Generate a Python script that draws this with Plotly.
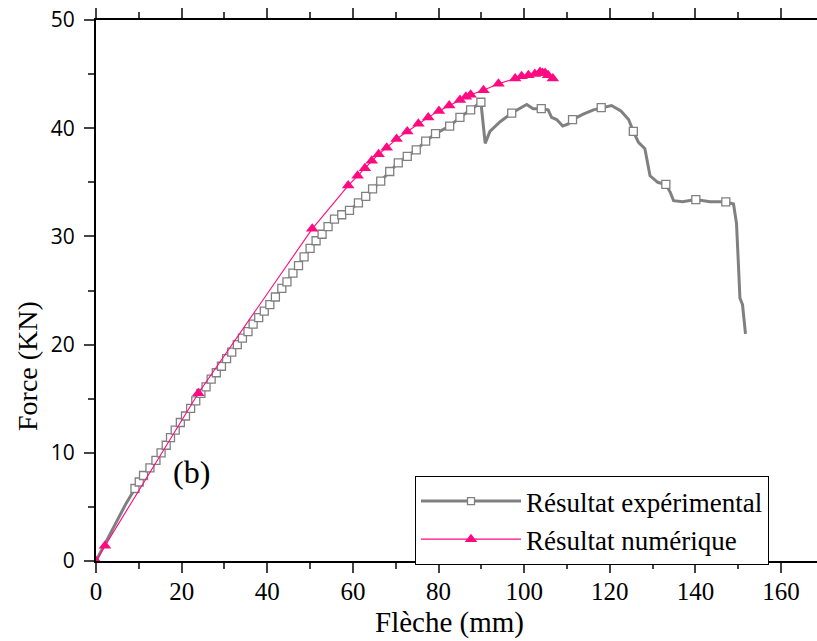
import plotly.graph_objects as go

# Experimental curve (Flèche mm, Force KN)
exp_x = [0, 2.0, 4.5, 7.0, 9.1, 10.1, 11.1, 12.6, 14.0, 15.2, 16.4, 17.4, 18.5, 19.7, 20.9, 22.1,
         23.3, 24.5, 25.7, 26.9, 28.1, 29.3, 30.5, 31.7, 33.0, 34.2, 35.5, 36.7, 38.0, 39.3, 40.6,
         41.9, 43.4, 44.6, 46.0, 47.3, 48.6, 50.0, 51.4, 52.8, 54.2, 55.7, 57.4, 59.2, 61.3, 63.0,
         64.6, 66.5, 68.6, 70.6, 72.7, 74.8, 77.0, 79.3, 82.6, 85.0, 87.5, 89.9,
         90.9, 91.5, 92.0, 94.4, 97.1, 100.6, 102.1, 104.0, 105.6, 106.4, 107.6, 109.0, 110.3,
         111.3, 113.8, 116.2, 118.0, 120.4, 122.6, 124.4, 125.5, 126.7, 128.2, 128.8, 129.4,
         131.2, 133.1, 134.1, 134.9, 137.0, 140.1, 143.4, 147.1, 148.9, 149.6, 150.0, 150.4,
         151.0, 151.7]
exp_y = [0, 1.5, 3.4, 5.3, 6.7, 7.3, 7.9, 8.6, 9.3, 10.0, 10.7, 11.4, 12.1, 12.8, 13.4, 14.1,
         14.8, 15.5, 16.1, 16.8, 17.4, 18.0, 18.7, 19.3, 20.0, 20.6, 21.2, 21.9, 22.5, 23.1, 23.7,
         24.4, 25.2, 25.8, 26.6, 27.3, 28.1, 28.9, 29.6, 30.2, 30.9, 31.6, 32.0, 32.4, 33.1, 33.7,
         34.4, 35.1, 36.0, 36.8, 37.4, 38.0, 38.8, 39.5, 40.2, 41.0, 41.7, 42.4,
         38.6, 39.2, 39.7, 40.6, 41.4, 42.2, 41.8, 41.8, 41.7, 41.0, 40.8, 40.2, 40.4,
         40.8, 41.3, 41.7, 41.9, 42.1, 41.6, 40.8, 39.7, 38.7, 38.1, 36.8, 35.6,
         35.0, 34.8, 34.1, 33.3, 33.2, 33.4, 33.2, 33.2, 33.0, 31.2, 27.8, 24.3,
         23.7, 21.0]

# Points of the experimental curve that carry a square marker
exp_mark_x = [9.1, 10.1, 11.1, 12.6, 14.0, 15.2, 16.4, 17.4, 18.5, 19.7, 20.9, 22.1,
              23.3, 24.5, 25.7, 26.9, 28.1, 29.3, 30.5, 31.7, 33.0, 34.2, 35.5, 36.7, 38.0, 39.3,
              40.6, 41.9, 43.4, 44.6, 46.0, 47.3, 48.6, 50.0, 51.4, 52.8, 54.2, 55.7, 57.4, 59.2,
              61.3, 63.0, 64.6, 66.5, 68.6, 70.6, 72.7, 74.8, 77.0, 79.3, 82.6, 85.0, 87.5, 89.9,
              97.1, 104.0, 111.3, 118.0, 125.5, 133.1, 140.1, 147.1]
exp_mark_y = [6.7, 7.3, 7.9, 8.6, 9.3, 10.0, 10.7, 11.4, 12.1, 12.8, 13.4, 14.1,
              14.8, 15.5, 16.1, 16.8, 17.4, 18.0, 18.7, 19.3, 20.0, 20.6, 21.2, 21.9, 22.5, 23.1,
              23.7, 24.4, 25.2, 25.8, 26.6, 27.3, 28.1, 28.9, 29.6, 30.2, 30.9, 31.6, 32.0, 32.4,
              33.1, 33.7, 34.4, 35.1, 36.0, 36.8, 37.4, 38.0, 38.8, 39.5, 40.2, 41.0, 41.7, 42.4,
              41.4, 41.8, 40.8, 41.9, 39.7, 34.8, 33.4, 33.2]

# Numerical curve
num_x = [0, 2.1, 23.9, 50.5, 58.9, 61.1, 62.8, 64.4, 66.0, 67.9, 70.2, 72.7, 75.3, 77.6, 80.1,
         82.5, 85.0, 86.4, 87.5, 90.5, 94.0, 97.9, 99.4, 101.0, 102.5, 103.7, 104.3, 104.9,
         105.6, 106.7]
num_y = [0, 1.4, 15.5, 30.7, 34.7, 35.6, 36.3, 37.0, 37.6, 38.2, 39.0, 39.7, 40.4, 41.0, 41.6,
         42.1, 42.6, 42.9, 43.1, 43.5, 44.1, 44.6, 44.8, 44.9, 45.0, 45.2, 45.1, 45.1,
         44.9, 44.6]

x_ticks = [0, 20, 40, 60, 80, 100, 120, 140, 160]
y_ticks = [0, 10, 20, 30, 40, 50]

GRAY = "#808080"
PINK = "#FF0A80"
SERIF = "Liberation Serif"

fig = go.Figure()
fig.add_trace(go.Scatter(x=exp_x, y=exp_y, mode="lines",
                         line=dict(color=GRAY, width=3), showlegend=False, hoverinfo="skip"))
fig.add_trace(go.Scatter(x=exp_mark_x, y=exp_mark_y, mode="markers",
                         marker=dict(symbol="square", size=8, color="white",
                                     line=dict(color=GRAY, width=1.3)),
                         showlegend=False))
fig.add_trace(go.Scatter(x=[None], y=[None], mode="lines+markers", name="Résultat expérimental",
                         line=dict(color=GRAY, width=3),
                         marker=dict(symbol="square", size=7, color="white",
                                     line=dict(color=GRAY, width=1.3))))
fig.add_trace(go.Scatter(x=num_x, y=num_y, mode="lines+markers", name="Résultat numérique",
                         line=dict(color=PINK, width=1.1),
                         marker=dict(symbol="triangle-up", size=11, color=PINK)))

fig.add_annotation(x=22.4, y=8.2, text="(b)", showarrow=False,
                   font=dict(family=SERIF, size=32, color="black"))
fig.add_annotation(xref="paper", yref="paper", x=(449 - 96) / 721, y=-(622 - 561) / 541,
                   yanchor="middle", text="Flèche (mm)", showarrow=False,
                   font=dict(family=SERIF, size=29, color="black"))
fig.add_annotation(xref="paper", yref="paper", x=(27 - 96) / 721, y=(561 - 366) / 541,
                   xanchor="center", text="Force (KN)", textangle=-90, showarrow=False,
                   font=dict(family=SERIF, size=28, color="black"))

fig.update_layout(
    width=817, height=641,
    margin=dict(l=96, r=0, t=20, b=80, autoexpand=False),
    paper_bgcolor="white", plot_bgcolor="white",
    xaxis=dict(range=[0, 168.4], tickvals=x_ticks, ticks="outside", ticklen=10, tickwidth=2,
               showline=True, linewidth=2, linecolor="black", mirror="ticks",
               showgrid=False, zeroline=False, automargin=False, ticklabeloverflow="allow",
               ticklabelstandoff=-3,
               minor=dict(ticks="outside", ticklen=6, tickwidth=2, dtick=10, tick0=0),
               tickfont=dict(family=SERIF, size=25, color="black")),
    yaxis=dict(range=[0, 50], tickvals=y_ticks, ticks="outside", ticklen=10, tickwidth=2,
               showline=True, linewidth=2, linecolor="black", mirror=False,
               showgrid=False, zeroline=False, automargin=False, ticklabelstandoff=5,
               ticklabeloverflow="allow",
               minor=dict(ticks="outside", ticklen=6, tickwidth=2, dtick=5, tick0=0),
               tickfont=dict(family="Open Sans", size=21, color="black")),
    legend=dict(x=(415 - 96) / 721, y=(561 - 476) / 541, xanchor="left", yanchor="top",
                bgcolor="white", bordercolor="black", borderwidth=1,
                font=dict(family=SERIF, size=27, color="black"),
                itemwidth=100, tracegroupgap=0),
    showlegend=True,
)

# Remove the browser's default 8px body margin so the figure sits at the page origin.
fig.write_html("out.html", config={"displayModeBar": False},
               post_script="document.body.style.margin='0';")
